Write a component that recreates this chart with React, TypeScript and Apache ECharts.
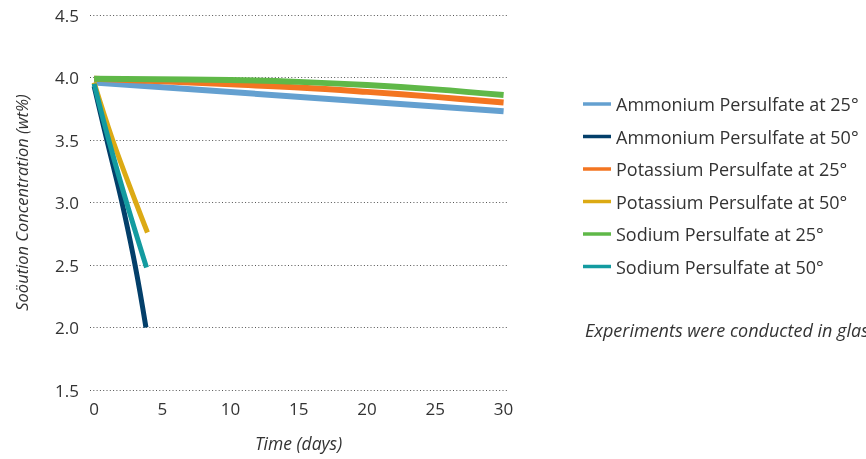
import React, { useEffect, useRef } from "react";
import * as echarts from "echarts";

const seriesNames = [
  "Ammonium Persulfate at 25°",
  "Ammonium Persulfate at 50°",
  "Potassium Persulfate at 25°",
  "Potassium Persulfate at 50°",
  "Sodium Persulfate at 25°",
  "Sodium Persulfate at 50°",
];
const colors = ["#64a0d0", "#033f6a", "#f37521", "#dcaa14", "#5fb848", "#139ba0"];

const ammonium25: [number, number][] = [[0, 3.96], [30, 3.73]];
const ammonium50: [number, number][] = [[0, 3.93], [1, 3.47], [2, 3.02], [3, 2.5], [3.8, 2.0]];
const potassium25: [number, number][] = [[0, 3.99], [5, 3.97], [10, 3.945], [15, 3.92], [20, 3.885], [25, 3.845], [30, 3.8]];
const potassium50: [number, number][] = [[0, 3.96], [1.36, 3.5], [3.06, 3.0], [3.91, 2.76]];
const sodium25: [number, number][] = [[0, 3.99], [10, 3.98], [15, 3.965], [20, 3.94], [25, 3.905], [30, 3.86]];
const sodium50: [number, number][] = [[0, 3.95], [1.07, 3.5], [2.38, 3.0], [3.84, 2.48]];

const allData = [ammonium25, ammonium50, potassium25, potassium50, sodium25, sodium50];
const lineWidths = [6, 5, 6, 5, 6, 5];

const xTicks = [0, 5, 10, 15, 20, 25, 30];
const yAxisTitle = "Soöution Concentration (wt%)";
const xAxisTitle = "Time (days)";
const noteText = "Experiments were conducted in glass containers";

const FONT = "Open Sans";

export default function App() {
  const ref = useRef<HTMLDivElement>(null);
  useEffect(() => {
    if (!ref.current) return;
    const chart = echarts.init(ref.current, null, { renderer: "svg" });
    chart.setOption({
      animation: false,
      textStyle: { fontFamily: FONT },
      grid: { left: 90, right: 359, top: 15, bottom: 69 },
      xAxis: {
        type: "value",
        min: -0.3,
        max: 30.25,
        axisLine: { show: false },
        axisTick: { show: false },
        splitLine: { show: false },
        axisLabel: {
          customValues: xTicks,
          color: "#333",
          fontSize: 17,
          fontFamily: FONT,
          margin: 10,
        },
        name: xAxisTitle,
        nameLocation: "middle",
        nameGap: 44,
        nameTextStyle: { fontStyle: "italic", fontSize: 17.5, color: "#333", fontFamily: FONT },
      },
      yAxis: {
        type: "value",
        min: 1.5,
        max: 4.5,
        interval: 0.5,
        axisLine: { show: false },
        axisTick: { show: false },
        splitLine: { show: true, lineStyle: { type: [1, 2.3], color: "#555", width: 1 } },
        axisLabel: {
          color: "#333",
          fontSize: 17,
          fontFamily: FONT,
          margin: 11,
          formatter: (v: number) => v.toFixed(1),
        },
        name: yAxisTitle,
        nameLocation: "middle",
        nameGap: 60,
        nameTextStyle: { fontStyle: "italic", fontSize: 16.5, color: "#333", fontFamily: FONT },
      },
      legend: {
        orient: "vertical",
        left: 583,
        top: 94,
        padding: 0,
        icon: "rect",
        itemWidth: 28,
        itemHeight: 3.5,
        itemGap: 12.5,
        textStyle: { fontSize: 18, color: "#333", fontFamily: FONT, lineHeight: 20 },
        data: seriesNames,
      },
      graphic: [
        {
          type: "text",
          x: 585,
          y: 330,
          style: {
            text: noteText,
            fontStyle: "italic",
            fontSize: 18,
            fill: "#333",
            fontFamily: FONT,
            verticalAlign: "middle",
          },
        },
      ],
      series: seriesNames.map((name, i) => ({
        name,
        type: "line",
        data: allData[i],
        smooth: 0.4,
        symbol: "none",
        color: colors[i],
        lineStyle: { width: lineWidths[i], color: colors[i], cap: "butt" },
      })),
    });
    return () => chart.dispose();
  }, []);
  return <div ref={ref} style={{ position: "fixed", left: 0, top: 0, width: 866, height: 459 }} />;
}
